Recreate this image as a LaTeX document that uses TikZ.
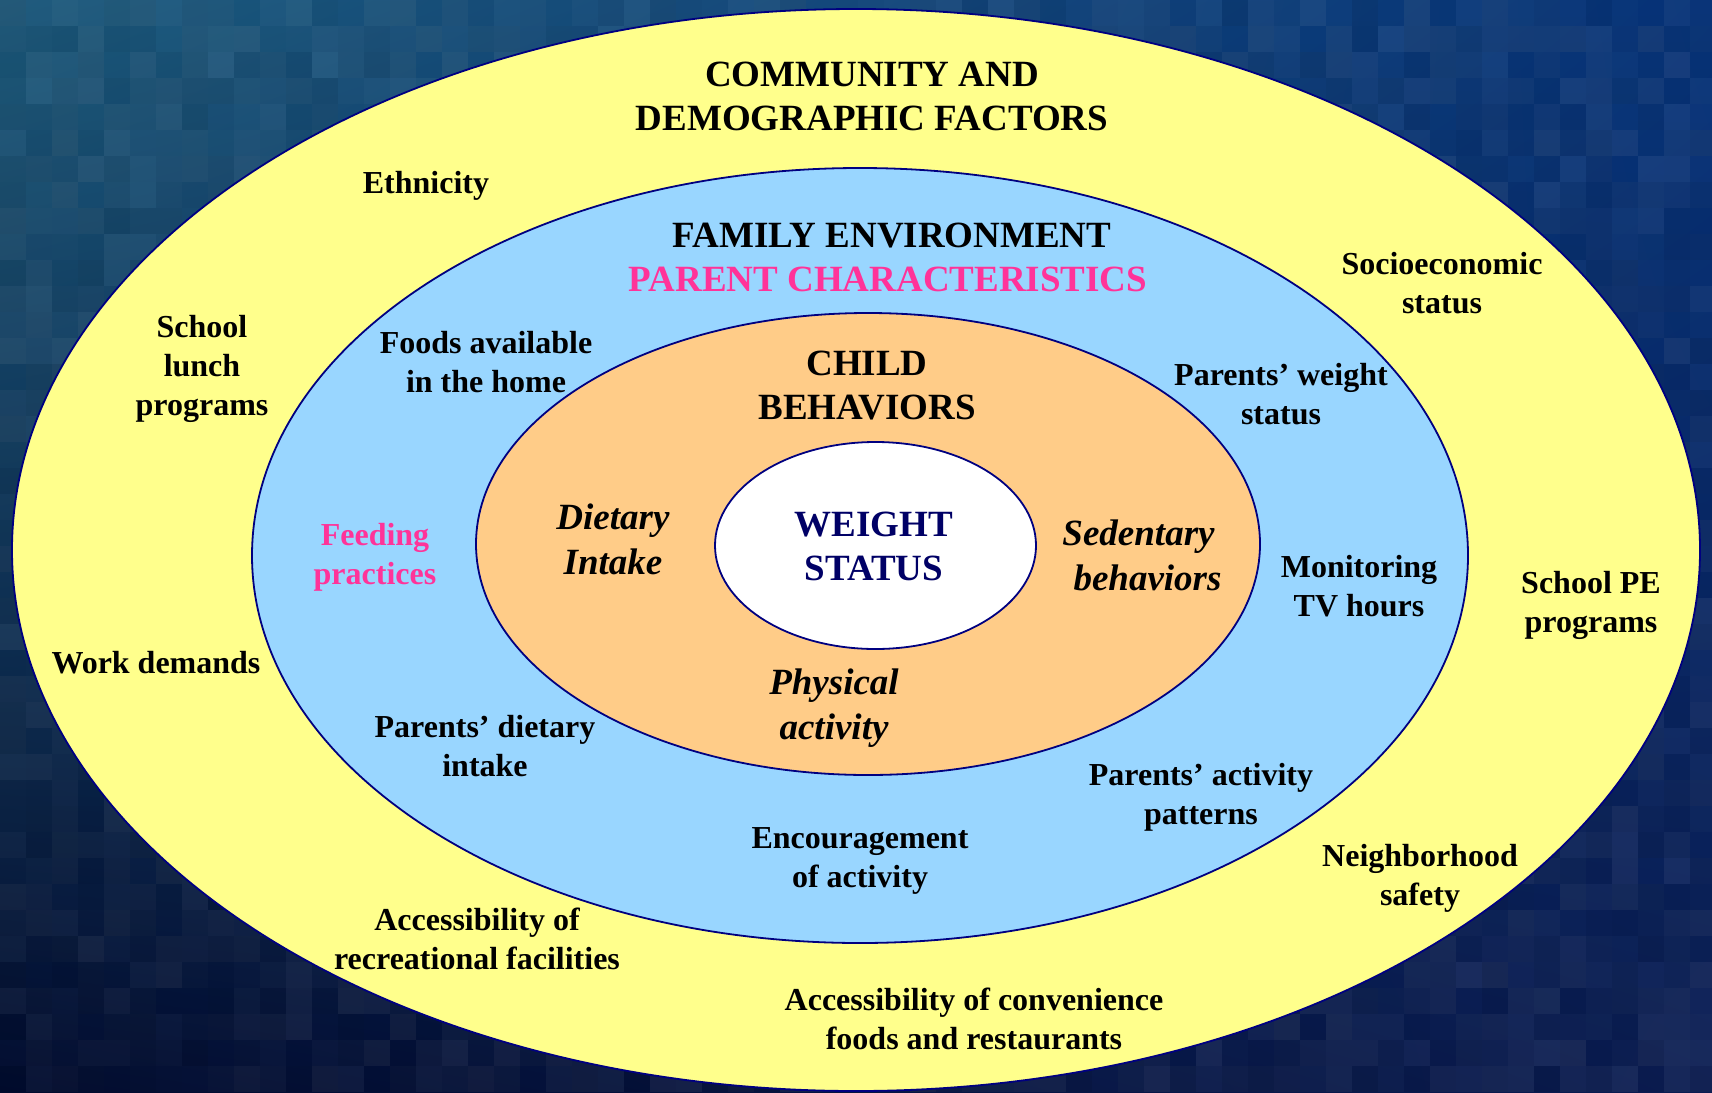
\documentclass[tikz,border=0pt]{standalone}
\usepackage{fontspec}
\setmainfont{Liberation Serif}
\usetikzlibrary{shapes.geometric,shadings}
\definecolor{ringline}{HTML}{000080}
\definecolor{commfill}{HTML}{FFFF8C}
\definecolor{famfill}{HTML}{99D6FF}
\definecolor{childfill}{HTML}{FFCC88}
\definecolor{pinktext}{HTML}{FF3399}
\definecolor{navytext}{HTML}{000066}
\definecolor{bgtl}{HTML}{1C5A7C}
\definecolor{bgtr}{HTML}{06337A}
\definecolor{bgbl}{HTML}{010B2E}
\definecolor{bgbr}{HTML}{0A1C52}
\begin{document}
\begin{tikzpicture}[x=1pt,y=-1pt,
  ring/.style={ellipse, draw=ringline, line width=1.8pt, inner sep=0pt},
  big/.style={font=\fontsize{37}{44}\selectfont\bfseries, align=center, inner sep=0pt},
  small/.style={font=\fontsize{32}{39}\selectfont\bfseries, align=center, inner sep=0pt},
  bigit/.style={font=\fontsize{37}{45}\selectfont\bfseries\itshape, align=center, inner sep=0pt},
]
\useasboundingbox (0,0) rectangle (1712,1092);
% dark blue backdrop, lighter at the top
\shade[upper left=bgtl, upper right=bgtr, lower left=bgbl, lower right=bgbr]
  (0,0) rectangle (1712,1092);
% coarse mosaic texture of the backdrop
\pgfmathsetseed{11}
\foreach \i in {0,...,65}{
  \foreach \j in {0,...,41}{
    \pgfmathsetmacro{\lt}{rnd*0.07}
    \pgfmathsetmacro{\dk}{rnd*0.08}
    \fill[white, opacity=\lt] (\i*26,\j*26) rectangle ++(26,26);
    \fill[black, opacity=\dk] (\i*26,\j*26) rectangle ++(26,26);
  }
}

% nested rings
\node[ring, fill=commfill, minimum width=1688pt, minimum height=1082pt] (community) at (856,550) {};
\node[ring, fill=famfill, minimum width=1216pt, minimum height=775pt] (family) at (860,555.5) {};
\node[ring, fill=childfill, minimum width=784pt, minimum height=462pt] (child) at (868,544) {};
\node[ring, fill=white, minimum width=321pt, minimum height=207pt] (weight) at (875.5,545.5) {};

% community and demographic factors
\node[big] (commtitle) at (872,96) {COMMUNITY AND\\DEMOGRAPHIC FACTORS};
\node[small] (ethnicity) at (426,186) {Ethnicity};
\node[small] (ses) at (1442,283) {Socioeconomic\\status};
\node[small] (lunch) at (202,369) {School\\lunch\\programs};
\node[small] (schoolpe) at (1591,605) {School PE\\programs};
\node[small] (work) at (156,663) {Work demands};
\node[small] (neigh) at (1420,878) {Neighborhood\\safety};
\node[small] (recfac) at (477,939) {Accessibility of\\recreational facilities};
\node[small] (convfood) at (974,1019) {Accessibility of convenience\\foods and restaurants};

% family environment
\node[big] (famtitle) at (892,236) {FAMILY ENVIRONMENT};
\node[big, text=pinktext] (partitle) at (888,279) {PARENT CHARACTERISTICS};
\node[small] (foods) at (486,362) {Foods available\\in the home};
\node[small] (pweight) at (1281,394) {Parents’ weight\\status};
\node[small, text=pinktext] (feeding) at (375,557) {Feeding\\practices};
\node[small] (tv) at (1359,586) {Monitoring\\TV hours};
\node[small] (pdiet) at (485,746) {Parents’ dietary\\intake};
\node[small] (pact) at (1201,797) {Parents’ activity\\patterns};
\node[small] (encour) at (860,861) {Encouragement\\of activity};

% child behaviors
\node[big] (childtitle) at (867,386) {CHILD\\BEHAVIORS};
\node[bigit] (diet) at (613,539) {Dietary\\Intake};
\node[bigit] (sedent) at (1143,555) {Sedentary\hspace*{9pt}\\\hspace*{9pt}behaviors};
\node[bigit] (physact) at (834,708) {Physical\\activity};

% weight status
\node[big, text=navytext] (wstatus) at (874,546) {WEIGHT\\STATUS};
\end{tikzpicture}
\end{document}
